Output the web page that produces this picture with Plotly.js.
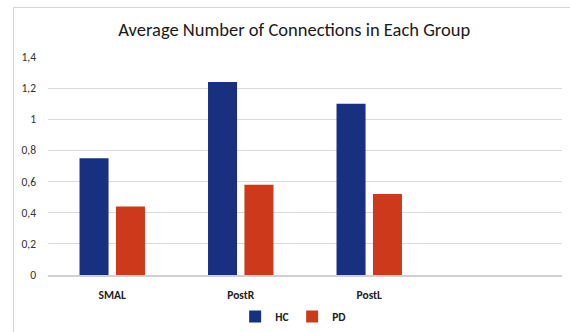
<!DOCTYPE html>
<html>
<head>
<meta charset="utf-8">
<script src="https://cdn.plot.ly/plotly-3.0.1.min.js"></script>
<style>
html,body{margin:0;padding:0;background:#fff;}
#wrap{position:relative;width:570px;height:332px;overflow:hidden;}
#chart{position:absolute;left:0;top:0;width:570px;height:332px;}
#frame{position:absolute;left:13px;top:7px;width:600px;height:400px;border-top:1.5px solid #d6d6d6;border-left:1.5px solid #d6d6d6;pointer-events:none;}
</style>
</head>
<body>
<div id="wrap"><div id="chart"></div><div id="frame"></div></div>
<script>
const categories = ['SMAL', 'PostR', 'PostL'];
const hcValues = [0.75, 1.24, 1.10];
const pdValues = [0.44, 0.58, 0.52];
const yTicks = [0, 0.2, 0.4, 0.6, 0.8, 1, 1.2, 1.4];

const font = 'Carlito, "Open Sans", "Noto Sans", sans-serif';

const data = [
  {type:'bar', name:'HC', x:categories, y:hcValues, marker:{color:'#17307f'}},
  {type:'bar', name:'PD', x:categories, y:pdValues, marker:{color:'#cd3a1b'}}
];

const layout = {
  width:570, height:332,
  margin:{l:48, r:8, t:57, b:57, autoexpand:false},
  paper_bgcolor:'rgba(0,0,0,0)', plot_bgcolor:'#fff',
  separators:',.',
  barmode:'group', bargap:0.433, bargroupgap:0.203,
  title:{text:'Average Number of Connections in Each Group', font:{family:font, size:18.5, color:'#1a1a1a'}, x:0.479, xanchor:'center', xref:'paper', y:1-30/332, yanchor:'middle'},
  xaxis:{type:'category', range:[-0.5, 3.5], showgrid:false, showline:true, linecolor:'#d0d0d0', linewidth:1.5,
         tickfont:{family:font, size:11.5, color:'#222', weight:700}, ticks:'', ticklabelstandoff:9, fixedrange:true, automargin:false},
  yaxis:{range:[0, 1.4], tickvals:yTicks, showgrid:true, gridcolor:'#d9d9d9', gridwidth:1.2, zeroline:false,
         tickfont:{family:font, size:11.5, color:'#333'}, ticks:'', ticklabelstandoff:11, automargin:false},
  showlegend:true,
  legend:{orientation:'h', x:0.475, xanchor:'center', y:-0.19, yanchor:'middle', font:{family:font, size:11.5, color:'#222', weight:700},
          itemwidth:30, entrywidth:12, entrywidthmode:'pixels', traceorder:'normal'}
};

Plotly.newPlot('chart', data, layout, {staticPlot:true, displayModeBar:false});
</script>
</body>
</html>
